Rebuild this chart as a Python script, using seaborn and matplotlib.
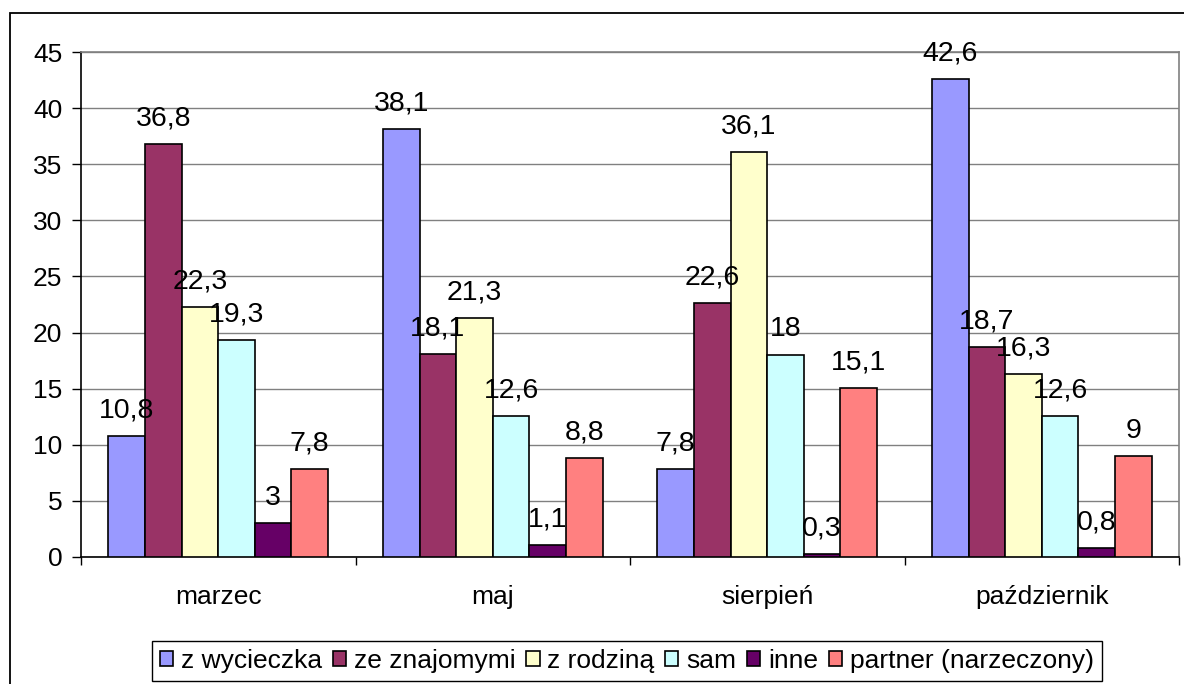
import pandas as pd
import matplotlib.pyplot as plt
import seaborn as sns
from matplotlib.patches import Rectangle

# Data
months = ["marzec", "maj", "sierpień", "październik"]
groups = ["z wycieczka", "ze znajomymi", "z rodziną", "sam", "inne", "partner (narzeczony)"]
z_wycieczka = [10.8, 38.1, 7.8, 42.6]
ze_znajomymi = [36.8, 18.1, 22.6, 18.7]
z_rodzina = [22.3, 21.3, 36.1, 16.3]
sam = [19.3, 12.6, 18.0, 12.6]
inne = [3.0, 1.1, 0.3, 0.8]
partner = [7.8, 8.8, 15.1, 9.0]
colors = ["#9999FF", "#993366", "#FFFFCC", "#CCFFFF", "#660066", "#FF8080"]

series = [z_wycieczka, ze_znajomymi, z_rodzina, sam, inne, partner]
rows = []
for g, vals in zip(groups, series):
    for m, v in zip(months, vals):
        rows.append({"miesiac": m, "grupa": g, "wartosc": v})
df = pd.DataFrame(rows)

# Style
sns.set_style("white")
plt.rcParams['font.family'] = ['Liberation Sans', 'DejaVu Sans']
plt.rcParams['font.size'] = 19
plt.rcParams['text.color'] = 'black'
plt.rcParams['xtick.color'] = 'black'
plt.rcParams['ytick.color'] = 'black'

fig = plt.figure(figsize=(11.84, 6.84), dpi=100)
ax = fig.add_axes([81 / 1184, 1 - 557 / 684, (1179 - 81) / 1184, (557 - 52) / 684])

sns.barplot(data=df, x="miesiac", y="wartosc", hue="grupa", order=months,
            hue_order=groups, palette=colors, width=0.8, edgecolor="black",
            linewidth=1.2, saturation=1, ax=ax, zorder=3)

# value labels with decimal comma
for cont, vals in zip(ax.containers, series):
    labels = [f"{v:g}".replace(".", ",") for v in vals]
    ax.bar_label(cont, labels=labels, padding=9, fontsize=20.5, color="black")

# axes
ax.set_ylim(0, 45)
ax.set_xlim(-0.5, 3.5)
ax.set_yticks(range(0, 46, 5))
ax.yaxis.grid(True, color="#808080", linewidth=1, zorder=0)
ax.set_axisbelow(True)
ax.set_xlabel("")
ax.set_ylabel("")
ax.tick_params(axis="y", which="major", left=True, length=6.5, width=1,
               color="black", pad=7, labelsize=19, labelcolor="black")
ax.tick_params(axis="x", which="major", length=0, pad=20, labelsize=19,
               labelcolor="black")
ax.set_xticks([-0.5, 0.5, 1.5, 2.5, 3.5], minor=True)
ax.tick_params(axis="x", which="minor", bottom=True, length=6, width=1,
               color="black")
for side in ["top", "right"]:
    ax.spines[side].set_color("#808080")
    ax.spines[side].set_linewidth(1.2)
for side in ["left", "bottom"]:
    ax.spines[side].set_color("black")
    ax.spines[side].set_linewidth(1.2)

# legend
sns.move_legend(ax, "center", bbox_to_anchor=(627 / 1184, 1 - 661 / 684),
                bbox_transform=fig.transFigure, ncol=6, title=None,
                frameon=True, fancybox=False, framealpha=1, edgecolor="black",
                fontsize=19, handlelength=0.5, handleheight=0.5,
                handletextpad=0.3, columnspacing=0.4, borderpad=0.3,
                borderaxespad=0)
ax.get_legend().get_frame().set_linewidth(1)
for t in ax.get_legend().get_texts():
    t.set_color("black")

# outer chart frame (cut at right and bottom)
fig.patches.append(Rectangle((10 / 1184, -0.1), 1.2, 1.1 - 13 / 684,
                             transform=fig.transFigure, fill=False,
                             edgecolor="black", linewidth=1.3))

plt.savefig("out.png", dpi=100)
